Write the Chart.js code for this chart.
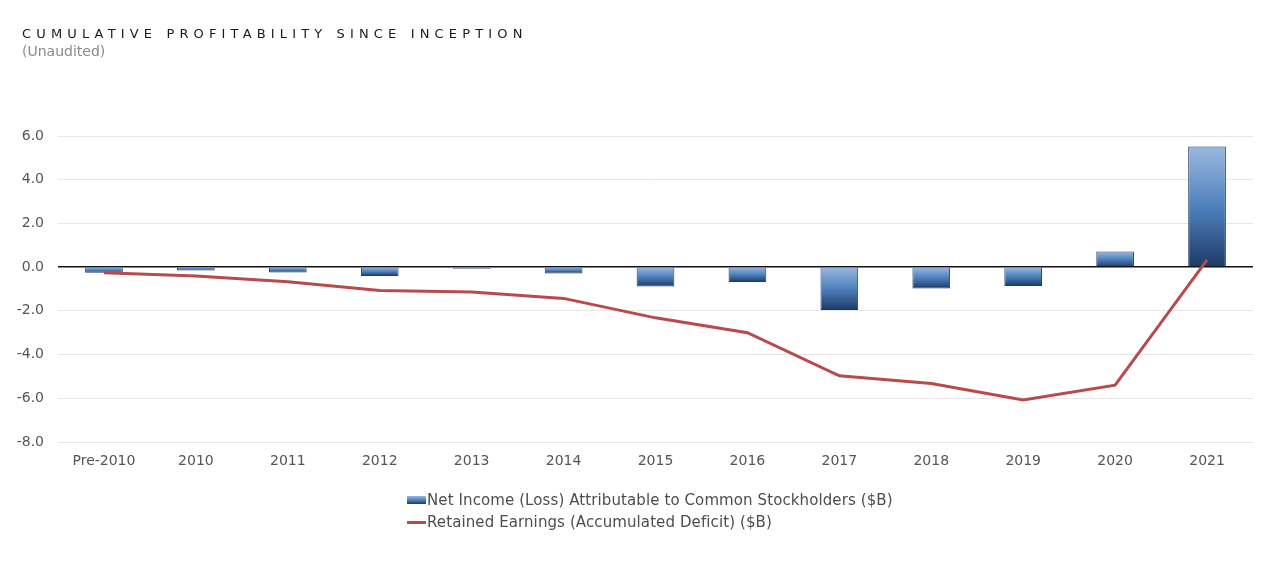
<!DOCTYPE html>
<html>
<head>
<meta charset="utf-8">
<script src="https://cdn.jsdelivr.net/npm/chart.js@4"></script>
<style>
  html, body { margin:0; padding:0; background:#fff; width:1280px; height:562px; overflow:hidden; }
  #wrap { position:relative; width:1280px; height:562px; }
  canvas { position:absolute; left:0; top:0; }
  #title { position:absolute; left:22px; top:26px; font-family:"DejaVu Sans", sans-serif; font-size:13px; letter-spacing:5.15px; color:#1a1a1a; white-space:nowrap; }
  #sub { position:absolute; left:22px; top:43px; font-family:"DejaVu Sans", sans-serif; font-size:14px; color:#8a8a8a; }
  #legend { position:absolute; left:407px; top:489px; font-family:"DejaVu Sans", sans-serif; font-size:15px; letter-spacing:0.1px; color:#4d4d4d; }
  .li { height:22px; line-height:20px; display:flex; align-items:center; white-space:nowrap; }
  .sw { width:19px; margin-right:1px; }
</style>
</head>
<body>
<div id="wrap">
  <canvas id="c" width="1280" height="562"></canvas>
  <div id="title">CUMULATIVE PROFITABILITY SINCE INCEPTION</div>
  <div id="sub">(Unaudited)</div>
  <div id="legend"></div>
</div>
<script>
const categories = ['Pre-2010','2010','2011','2012','2013','2014','2015','2016','2017','2018','2019','2020','2021'];
const netIncome = [-0.26, -0.15, -0.25, -0.40, -0.07, -0.29, -0.89, -0.68, -1.96, -0.98, -0.86, 0.72, 5.52];
const retainedEarnings = [-0.26, -0.41, -0.67, -1.07, -1.14, -1.43, -2.32, -3.00, -4.97, -5.32, -6.08, -5.40, 0.33];
const yTicks = [6, 4, 2, 0, -2, -4, -6, -8];
const seriesNames = ['Net Income (Loss) Attributable to Common Stockholders ($B)', 'Retained Earnings (Accumulated Deficit) ($B)'];

function barFill(ctx) {
  const chart = ctx.chart;
  const ys = chart.scales.y;
  if (!ys || ctx.type !== 'data') return '#4f81bd';
  const v = ctx.raw;
  const p0 = ys.getPixelForValue(0), p1 = ys.getPixelForValue(v);
  const top = Math.min(p0, p1), bot = Math.max(p0, p1);
  if (!isFinite(top) || bot - top < 1) return '#3b6aa5';
  const g = chart.ctx.createLinearGradient(0, top, 0, bot);
  g.addColorStop(0, '#9ab8de');
  g.addColorStop(0.5, '#4f81bd');
  g.addColorStop(1, '#1d3a66');
  return g;
}

const chart = new Chart(document.getElementById('c'), {
  type: 'bar',
  data: {
    labels: categories,
    datasets: [
      { type:'line', label: seriesNames[1], data: retainedEarnings, borderColor:'#b94a4c', borderWidth:3, pointRadius:0, tension:0, order:0, fill:false },
      { type:'bar', label: seriesNames[0], data: netIncome, backgroundColor: barFill, borderColor:'#1f3a60', borderWidth:1, barPercentage:0.41, categoryPercentage:1, order:1 }
    ]
  },
  options: {
    responsive:false, animation:false,
    layout: { padding: { top:136, right:27, bottom:80, left:0 } },
    plugins: { legend:{ display:false }, tooltip:{ enabled:false } },
    scales: {
      x: {
        grid:{ display:false },
        border:{ display:false },
        ticks:{ color:'#555', font:{ family:'DejaVu Sans', size:14 }, padding:3, maxRotation:0 },
        afterFit(s){ s.height = 40; }
      },
      y: {
        min:-8, max:6,
        afterBuildTicks(s){ s.ticks = yTicks.map(v => ({ value:v })); },
        grid:{ color: c => c.tick && c.tick.value === 0 ? '#111' : '#e6e6e6', lineWidth: c => c.tick && c.tick.value === 0 ? 1.6 : 1, drawTicks:false },
        border:{ display:false },
        ticks:{ color:'#555', font:{ family:'DejaVu Sans', size:14 }, padding:14, callback: v => Number(v).toFixed(1) },
        afterFit(s){ s.width = 58; }
      }
    }
  }
});

const leg = document.getElementById('legend');
const items = [
  { name: seriesNames[0], sw: '<div class="sw" style="height:8px;background:linear-gradient(#9ab8de,#4f81bd,#1d3a66);"></div>' },
  { name: seriesNames[1], sw: '<div class="sw" style="height:3px;background:#b94a4c;"></div>' }
];
leg.innerHTML = items.map(i => '<div class="li">' + i.sw + '<span>' + i.name + '</span></div>').join('');
</script>
</body>
</html>
